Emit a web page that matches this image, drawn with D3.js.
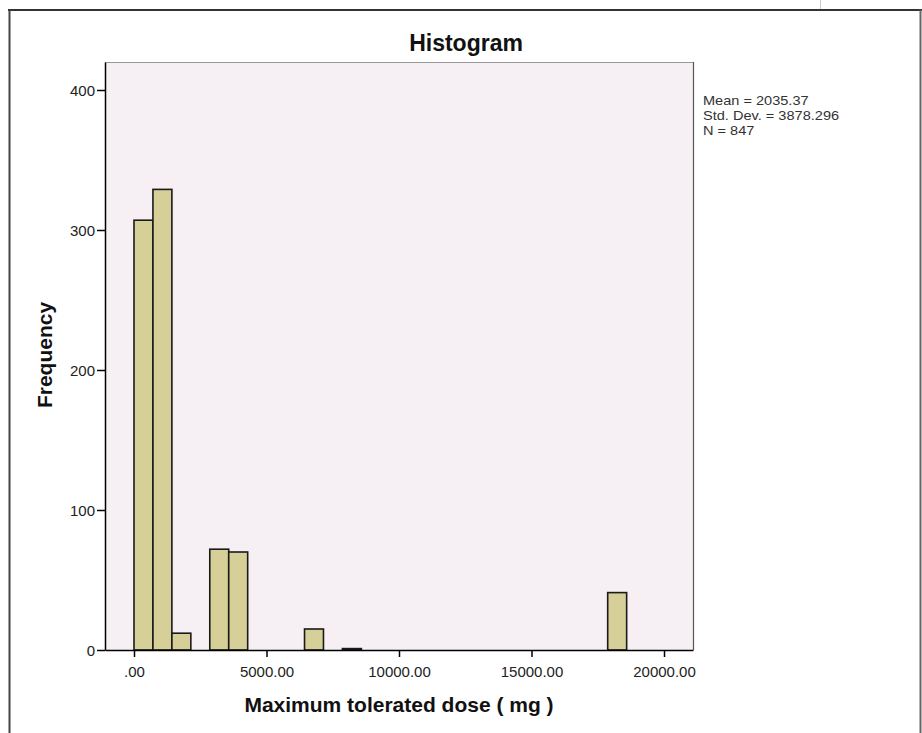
<!DOCTYPE html>
<html>
<head>
<meta charset="utf-8">
<script src="https://cdn.jsdelivr.net/npm/d3@7/dist/d3.min.js"></script>
<style>
  html, body { margin: 0; padding: 0; background: #fff; }
  svg { display: block; }
  text { font-family: "Liberation Sans", Arial, sans-serif; }
</style>
</head>
<body>
<svg id="chart" width="922" height="733"></svg>
<script>
// ---- data ----
const binStarts = [0, 715, 1430, 2860, 3575, 6435, 7865, 17875];
const binWidth = 715;
const counts = [307, 329, 12, 72, 70, 15, 1, 41];
const xTicks = [0, 5000, 10000, 15000, 20000];
const yTicks = [0, 100, 200, 300, 400];
const statLines = ["Mean = 2035.37", "Std. Dev. = 3878.296", "N = 847"];
const titleText = "Histogram";
const xLabel = "Maximum tolerated dose ( mg )";
const yLabel = "Frequency";

const svg = d3.select("#chart");
const plot = { left: 105, right: 693, top: 62, bottom: 650 };

const x = d3.scaleLinear()
  .domain([-1094, 21094])
  .range([plot.left, plot.right]);
const y = d3.scaleLinear()
  .domain([0, 420])
  .range([plot.bottom, plot.top]);

// outer frame
svg.append("line").attr("x1", 8).attr("x2", 922).attr("y1", 10).attr("y2", 10)
  .attr("stroke", "#333").attr("stroke-width", 2);
svg.append("line").attr("x1", 9.5).attr("x2", 9.5).attr("y1", 10).attr("y2", 733)
  .attr("stroke", "#444").attr("stroke-width", 2);
svg.append("line").attr("x1", 920.5).attr("x2", 920.5).attr("y1", 10).attr("y2", 733)
  .attr("stroke", "#666").attr("stroke-width", 2);
svg.append("line").attr("x1", 820.5).attr("x2", 820.5).attr("y1", 0).attr("y2", 9)
  .attr("stroke", "#ccc").attr("stroke-width", 1);

// plot background
svg.append("rect")
  .attr("x", plot.left).attr("y", plot.top)
  .attr("width", plot.right - plot.left).attr("height", plot.bottom - plot.top)
  .attr("fill", "#f6eff4");
svg.append("line").attr("x1", plot.left).attr("x2", plot.right)
  .attr("y1", plot.top + 0.5).attr("y2", plot.top + 0.5)
  .attr("stroke", "#999").attr("stroke-width", 1);
svg.append("line").attr("x1", plot.right + 0.5).attr("x2", plot.right + 0.5)
  .attr("y1", plot.top).attr("y2", plot.bottom)
  .attr("stroke", "#555").attr("stroke-width", 1.2);

// bars
svg.append("g").selectAll("rect")
  .data(binStarts.map((s, i) => ({ x0: s, x1: s + binWidth, n: counts[i] })))
  .join("rect")
  .attr("x", d => x(d.x0))
  .attr("y", d => y(d.n))
  .attr("width", d => x(d.x1) - x(d.x0))
  .attr("height", d => y(0) - y(d.n))
  .attr("fill", "#d6cf98")
  .attr("stroke", "#1a1a1a")
  .attr("stroke-width", 1.6);

// x axis
const xAxis = d3.axisBottom(x)
  .tickValues(xTicks)
  .tickSize(7)
  .tickSizeOuter(0)
  .tickFormat(d => d === 0 ? ".00" : d.toFixed(2));
const gx = svg.append("g")
  .attr("transform", `translate(0,${plot.bottom})`)
  .call(xAxis);
gx.select(".domain").attr("stroke", "#000").attr("stroke-width", 1.5);
gx.selectAll(".tick line").attr("stroke", "#000").attr("stroke-width", 1.5);
gx.selectAll(".tick text")
  .attr("font-size", 15).attr("fill", "#222").attr("dy", null).attr("y", 27)
  .attr("font-family", "'Liberation Sans', Arial, sans-serif");

// y axis
const yAxis = d3.axisLeft(y)
  .tickValues(yTicks)
  .tickSize(8)
  .tickSizeOuter(0);
const gy = svg.append("g")
  .attr("transform", `translate(${plot.left},0)`)
  .call(yAxis);
gy.select(".domain").attr("stroke", "#000").attr("stroke-width", 1.5);
gy.selectAll(".tick line").attr("stroke", "#000").attr("stroke-width", 1.5);
gy.selectAll(".tick text")
  .attr("font-size", 15).attr("fill", "#222").attr("x", -10).attr("dy", "0.36em")
  .attr("font-family", "'Liberation Sans', Arial, sans-serif");

// title
svg.append("text")
  .attr("x", 466).attr("y", 51)
  .attr("text-anchor", "middle")
  .attr("font-size", 23).attr("font-weight", "bold").attr("fill", "#111")
  .text(titleText);

// x label
svg.append("text")
  .attr("x", (plot.left + plot.right) / 2).attr("y", 712)
  .attr("text-anchor", "middle")
  .attr("font-size", 21).attr("font-weight", "bold").attr("fill", "#111")
  .text(xLabel);

// y label
svg.append("text")
  .attr("transform", "translate(52,355) rotate(-90)")
  .attr("text-anchor", "middle")
  .attr("font-size", 21).attr("font-weight", "bold").attr("fill", "#111")
  .text(yLabel);

// stats
svg.append("g")
  .attr("transform", "translate(703,0) scale(1.12,1)")
  .selectAll("text")
  .data(statLines)
  .join("text")
  .attr("x", 0)
  .attr("y", (d, i) => 105 + i * 15)
  .attr("font-size", 13).attr("fill", "#333")
  .text(d => d);
</script>
</body>
</html>
